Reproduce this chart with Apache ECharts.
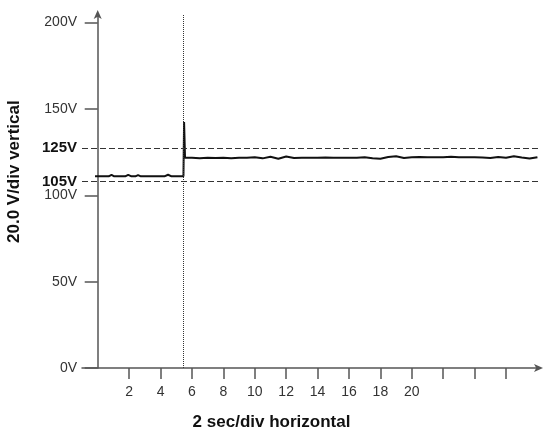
<!DOCTYPE html>
<html>
<head>
<meta charset="utf-8">
<script src="https://cdn.jsdelivr.net/npm/echarts@6/dist/echarts.min.js"></script>
<style>
  html, body { margin: 0; padding: 0; background: #fff; }
  #chart { width: 543px; height: 433px; }
</style>
</head>
<body>
<div id="chart"></div>
<script>
// trace readings: time (sec) and voltage (V)
var times = [-0.17, 0.7, 0.88, 1.05, 1.75, 1.94, 2.15, 2.4, 2.57, 2.75, 4.25, 4.48, 4.7, 5.46, 5.5, 5.56,
  6.0, 6.5, 7.0, 7.5, 8.0, 8.5, 9.0, 9.5, 10.0, 10.5, 11.0, 11.5, 12.0, 12.5, 13.0, 13.5, 14.0, 14.5,
  15.0, 15.5, 16.0, 16.5, 17.0, 17.5, 18.0, 18.5, 19.0, 19.5, 20.0, 20.5, 21.0, 21.5, 22.0, 22.5,
  23.0, 23.5, 24.0, 24.5, 25.0, 25.5, 26.0, 26.5, 27.0, 27.5, 28.0];
var volts = [111, 111, 111.8, 111, 111, 111.8, 111, 111, 111.7, 111, 111, 111.9, 111, 111, 142.4, 121.8,
  121.8, 121.5, 121.8, 121.6, 121.8, 121.4, 121.8, 121.8, 122.1, 121.4, 122.3, 121.2, 122.5, 121.6, 121.8, 121.8, 121.7, 121.9,
  121.8, 121.8, 121.8, 121.8, 122.1, 121.5, 121.2, 122.2, 122.6, 121.6, 122.0, 122.2, 122.0, 122.1, 122.0, 122.4,
  122.0, 122.0, 122.1, 121.9, 121.6, 122.2, 121.7, 122.6, 121.9, 121.3, 122.1];

var xTicks = [2, 4, 6, 8, 10, 12, 14, 16, 18, 20, 22, 24, 26];
var xLabels = [2, 4, 6, 8, 10, 12, 14, 16, 18, 20];
var yTicks = [0, 50, 100, 150, 200];

// dashed limit lines (as drawn) and their labels
var limitValues = [127.4, 108];
var limitLabels = ['125V', '105V'];
var eventTime = 5.47;

var chart = echarts.init(document.getElementById('chart'));

var points = times.map(function (t, i) { return [t, volts[i]]; });

var limitLines = limitValues.map(function (v, i) {
  return {
    yAxis: v,
    label: { formatter: limitLabels[i] }
  };
});

var option = {
  animation: false,
  textStyle: { fontFamily: 'Liberation Sans, Arial, sans-serif' },
  grid: { left: 82, right: 4, top: 14, bottom: 65 },
  xAxis: {
    type: 'value',
    min: -1,
    max: 28.1,
    splitLine: { show: false },
    axisLine: {
      lineStyle: { color: '#555', width: 1.5 },
      symbol: ['none', 'arrow'],
      symbolSize: [6, 9],
      symbolOffset: [0, 4]
    },
    axisTick: { customValues: xTicks, length: 11, lineStyle: { color: '#555', width: 1.5 } },
    axisLabel: { customValues: xLabels, color: '#333', fontSize: 14, margin: 17 }
  },
  yAxis: {
    type: 'value',
    min: 0,
    max: 205,
    splitLine: { show: false },
    axisLine: {
      onZero: true,
      lineStyle: { color: '#555', width: 1.5 },
      symbol: ['none', 'arrow'],
      symbolSize: [6, 9],
      symbolOffset: [0, 4]
    },
    axisTick: { customValues: yTicks, length: 13, lineStyle: { color: '#555', width: 1.5 } },
    axisLabel: { customValues: yTicks, color: '#333', fontSize: 14, margin: 5, formatter: '{value}V' }
  },
  graphic: [
    {
      type: 'text',
      left: 'center',
      top: 414,
      style: { text: '2 sec/div horizontal', font: 'bold 17px Liberation Sans, Arial, sans-serif', fill: '#111' }
    },
    {
      type: 'text',
      x: 6,
      y: 243,
      rotation: Math.PI / 2,
      style: { text: '20.0 V/div vertical', font: 'bold 17px Liberation Sans, Arial, sans-serif', fill: '#111' }
    }
  ],
  series: [
    {
      type: 'line',
      data: points,
      showSymbol: false,
      lineStyle: { color: '#111', width: 2 },
      z: 3,
      markLine: {
        silent: true,
        symbol: 'none',
        lineStyle: { color: '#333', type: [6, 3], width: 1 },
        label: {
          position: 'start',
          color: '#111',
          fontWeight: 'bold',
          fontSize: 15,
          distance: 5
        },
        data: limitLines
      }
    },
    {
      type: 'line',
      data: [],
      markLine: {
        silent: true,
        symbol: 'none',
        lineStyle: { color: '#333', type: 'dotted', width: 1 },
        label: { show: false },
        data: [{ xAxis: eventTime }]
      }
    }
  ]
};

chart.setOption(option);
</script>
</body>
</html>
